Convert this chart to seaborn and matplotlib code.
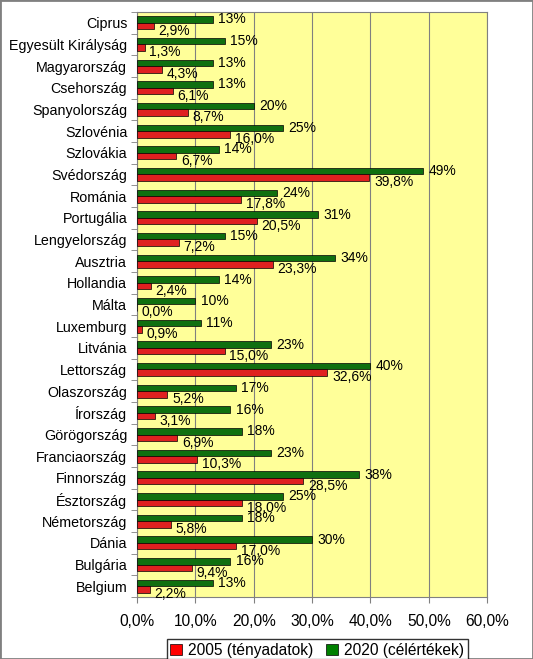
import matplotlib
matplotlib.use("Agg")
import matplotlib.pyplot as plt
import matplotlib.patches as mpatches
from matplotlib.ticker import FixedLocator, FuncFormatter
import seaborn as sns
import pandas as pd

countries = ["Ciprus", "Egyesült Királyság", "Magyarország", "Csehország", "Spanyolország",
             "Szlovénia", "Szlovákia", "Svédország", "Románia", "Portugália", "Lengyelország",
             "Ausztria", "Hollandia", "Málta", "Luxemburg", "Litvánia", "Lettország",
             "Olaszország", "Írország", "Görögország", "Franciaország", "Finnország",
             "Észtország", "Németország", "Dánia", "Bulgária", "Belgium"]
values_2005 = [2.9, 1.3, 4.3, 6.1, 8.7, 16.0, 6.7, 39.8, 17.8, 20.5, 7.2, 23.3, 2.4, 0.0, 0.9,
               15.0, 32.6, 5.2, 3.1, 6.9, 10.3, 28.5, 18.0, 5.8, 17.0, 9.4, 2.2]
values_2020 = [13, 15, 13, 13, 20, 25, 14, 49, 24, 31, 15, 34, 14, 10, 11, 23, 40, 17, 16, 18,
               23, 38, 25, 18, 30, 16, 13]
series_names = ["2005 (tényadatok)", "2020 (célértékek)"]
x_ticks = [0, 10, 20, 30, 40, 50, 60]

df = pd.DataFrame({
    "country": countries * 2,
    "value": values_2020 + values_2005,
    "series": [series_names[1]] * len(countries) + [series_names[0]] * len(countries),
})

plt.rcParams["font.family"] = ["Liberation Sans", "DejaVu Sans"]
fig = plt.figure(figsize=(5.33, 6.59), dpi=100)
ax = fig.add_axes([0.257, 0.094, 0.657, 0.888])
ax.set_facecolor("#FFFF99")

colors = {series_names[0]: "#FF0000", series_names[1]: "#008000"}
sns.barplot(data=df, y="country", x="value", hue="series",
            hue_order=[series_names[1], series_names[0]], order=countries,
            palette=colors, orient="h", width=0.6, edgecolor="black", linewidth=0.5,
            legend=False, ax=ax, zorder=3)

ax.set_xlim(0, 60)
ax.set_ylim(len(countries) - 0.5, -0.5)
ax.xaxis.set_major_locator(FixedLocator(x_ticks))
ax.xaxis.set_major_formatter(FuncFormatter(lambda v, p: f"{v:.1f}%".replace(".", ",")))
ax.grid(axis="x", color="#808080", linewidth=0.8, zorder=0)
ax.set_axisbelow(True)
ax.set_xlabel("")
ax.set_ylabel("")
ax.tick_params(axis="x", labelsize=11.2, length=4, color="#808080", pad=8)
ax.tick_params(axis="y", which="major", length=0, labelsize=10.3, pad=7)
ax.set_yticks([i + 0.5 for i in range(-1, len(countries))], minor=True)
ax.tick_params(axis="y", which="minor", length=4, color="#808080")
for s in ["top", "right", "left", "bottom"]:
    ax.spines[s].set_color("#808080")

# data labels
green_c, red_c = ax.containers[0], ax.containers[1]
for bar, v in zip(green_c, values_2020):
    y = bar.get_y() + bar.get_height() / 2
    ax.text(bar.get_width() + 0.9, y, f"{v:.0f}%", va="center", ha="left", fontsize=10)
for bar, v in zip(red_c, values_2005):
    y = bar.get_y() + bar.get_height() / 2 + 0.22
    ax.text(bar.get_width() + 0.8, y, f"{v:.1f}%".replace(".", ","), va="center", ha="left", fontsize=10)

handles = [mpatches.Patch(facecolor=colors[n], edgecolor="black", linewidth=0.5, label=n)
           for n in series_names]
fig.legend(handles=handles, loc="upper center", bbox_to_anchor=(0.595, 0.0303), ncol=2,
           frameon=True, fancybox=False, edgecolor="black", fontsize=11.2,
           handlelength=0.75, handleheight=0.75, handletextpad=0.4, columnspacing=0.8,
           borderpad=0.25, borderaxespad=0)

fig.patches.append(mpatches.Rectangle((0, 0), 1, 1, transform=fig.transFigure, fill=False,
                                      edgecolor="#808080", linewidth=2))
fig.savefig("out.png", dpi=100)
